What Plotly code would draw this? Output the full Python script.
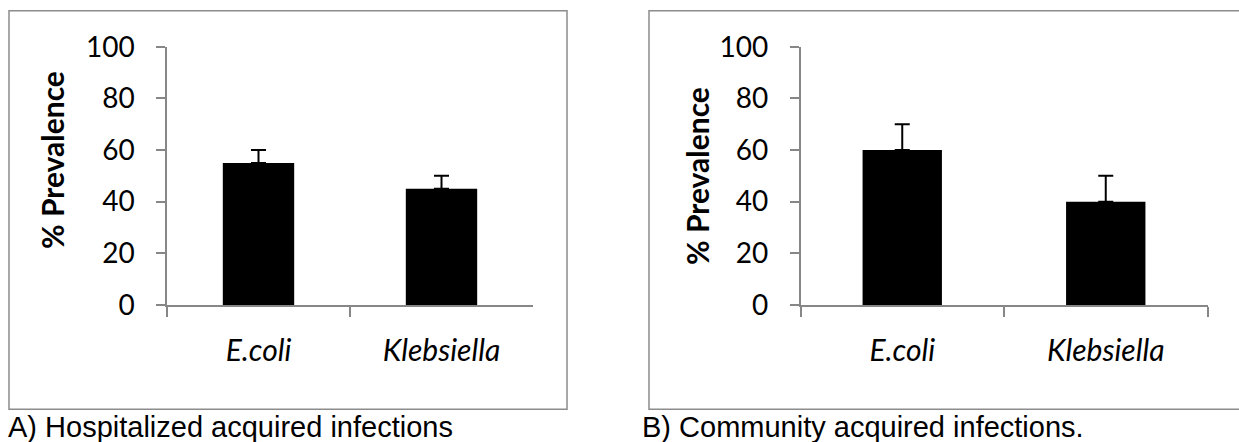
import plotly.graph_objects as go

# ---- data ----
categories = ["E.coli", "Klebsiella"]
hospital_values = [55, 45]
hospital_errors = [5, 5]
community_values = [60, 40]
community_errors = [10, 10]
y_ticks = [0, 20, 40, 60, 80, 100]
y_title = "% Prevalence"
caption_a = "A) Hospitalized acquired infections"
caption_b = "B) Community acquired infections."

W, H = 1239, 442


def px(x):
    return x / W


def py(y):
    return 1 - y / H


AXIS_GRAY = "#878787"
BORDER_GRAY = "#8c8c8c"

fig = go.Figure()

for vals, errs, xa, ya in [
    (hospital_values, hospital_errors, "x", "y"),
    (community_values, community_errors, "x2", "y2"),
]:
    fig.add_trace(go.Bar(
        x=categories, y=vals, xaxis=xa, yaxis=ya,
        width=0.39,
        marker=dict(color="black", line=dict(width=0)),
        error_y=dict(type="data", array=errs, arrayminus=[0] * len(errs),
                     symmetric=False, color="black", thickness=2, width=7.5),
        showlegend=False,
    ))

ydom = [py(305), py(46.7)]

common_y = dict(
    range=[0, 100], tickvals=y_ticks, ticks="outside", ticklen=9,
    tickcolor=AXIS_GRAY, tickwidth=1.5, showline=True, linecolor=AXIS_GRAY,
    linewidth=1.5, showgrid=False, zeroline=False, automargin=False,
    tickfont=dict(family="Lato", size=28, color="black"),
    ticklabelstandoff=16, domain=ydom,
)
common_x = dict(
    type="category", range=[-0.5, 1.5], tickson="boundaries",
    ticks="outside", ticklen=10, tickcolor=AXIS_GRAY, tickwidth=1.5,
    showline=True, linecolor=AXIS_GRAY, linewidth=1.5, showgrid=False,
    zeroline=False, automargin=False,
    tickfont=dict(family="Lato", size=30, color="black", style="italic"),
    ticklabelstandoff=18,
)

fig.update_layout(
    template="none",
    width=W, height=H, autosize=False,
    margin=dict(l=0, r=0, t=0, b=0, pad=0),
    paper_bgcolor="white", plot_bgcolor="white",
    showlegend=False,
    xaxis=dict(domain=[px(167), px(533)], anchor="y", **common_x),
    yaxis=dict(anchor="x", **common_y),
    xaxis2=dict(domain=[px(800.5), px(1207.5)], anchor="y2", **common_x),
    yaxis2=dict(anchor="x2", **common_y),
    bargap=0.6,
)

# y axis titles
for xc, yc in [(52, 160), (697, 176)]:
    fig.add_annotation(
        text=y_title, xref="paper", yref="paper", x=px(xc), y=py(yc),
        xanchor="center", yanchor="middle", textangle=-90, showarrow=False,
        font=dict(family="Lato", size=30, color="black", weight="bold"),
    )

# captions
for txt, xl in [(caption_a, 6), (caption_b, 640)]:
    fig.add_annotation(
        text=txt, xref="paper", yref="paper", x=px(xl), y=py(427),
        xanchor="left", yanchor="middle", showarrow=False,
        font=dict(family="Liberation Sans", size=29, color="black"),
    )

# panel borders
for x0, x1 in [(9, 567), (649, 1250)]:
    fig.add_shape(
        type="rect", xref="paper", yref="paper",
        x0=px(x0), x1=px(x1), y0=py(409.3), y1=py(10.7),
        line=dict(color=BORDER_GRAY, width=1.5), fillcolor="rgba(0,0,0,0)",
    )

fig.write_html(
    "out.html",
    config={"displayModeBar": False},
    post_script="document.body.style.margin='0px';document.body.style.overflow='hidden';",
)
